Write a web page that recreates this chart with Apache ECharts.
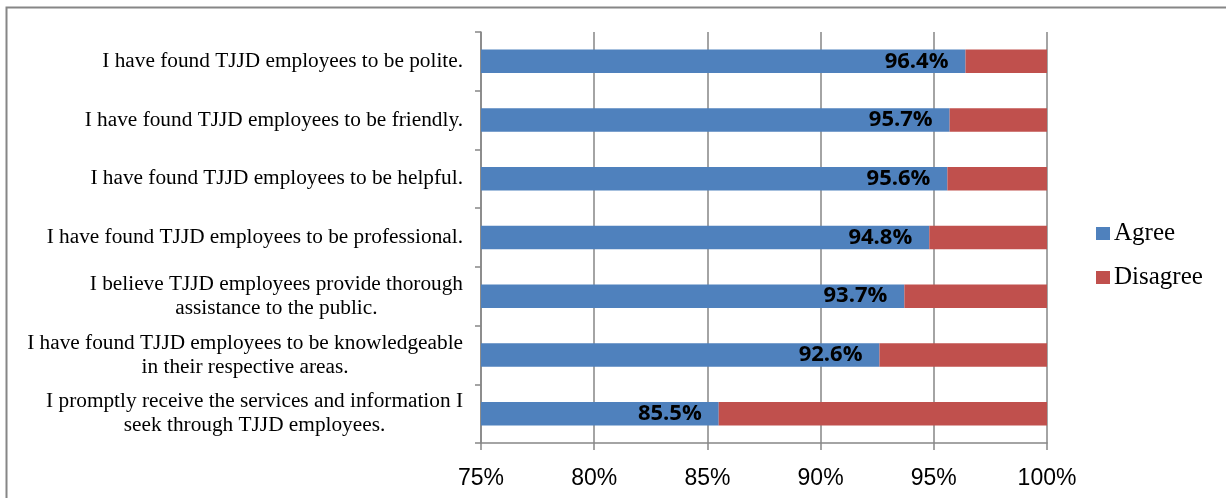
<!DOCTYPE html>
<html>
<head>
<meta charset="utf-8">
<script src="https://cdn.jsdelivr.net/npm/echarts@6/dist/echarts.min.js"></script>
<style>
html,body{margin:0;padding:0;background:#fff;}
#chart{width:1226px;height:498px;}
</style>
</head>
<body>
<div id="chart"></div>
<script>
var categories = [
  "I have found TJJD employees to be polite.",
  "I have found TJJD employees to be friendly.",
  "I have found TJJD employees to be helpful.",
  "I have found TJJD employees to be professional.",
  "I believe TJJD employees provide thorough\nassistance to the public.",
  "I have found TJJD employees to be knowledgeable\nin their respective areas.",
  "I promptly receive the services and information I\nseek through TJJD employees."
];
var agreeValues = [96.4, 95.7, 95.6, 94.8, 93.7, 92.6, 85.5];
var disagreeValues = [3.6, 4.3, 4.4, 5.2, 6.3, 7.4, 14.5];
var seriesNames = ["Agree", "Disagree"];

var chart = echarts.init(document.getElementById('chart'), null, {renderer: 'canvas'});
var gray = '#868686';
chart.setOption({
  animation: false,
  backgroundColor: '#fff',
  graphic: [{
    type: 'rect',
    shape: {x: 6.5, y: 7.5, width: 1240, height: 520},
    style: {fill: 'none', stroke: gray, lineWidth: 2},
    silent: true
  }],
  legend: {
    orient: 'vertical',
    left: 1091,
    top: 216,
    itemWidth: 14,
    itemHeight: 13,
    itemGap: 19,
    icon: 'rect',
    textStyle: {fontFamily: 'Liberation Serif', fontSize: 25, color: '#000', padding: [0, 0, 0, -1]},
    data: seriesNames
  },
  grid: {left: 481, right: 179, top: 32, bottom: 55, containLabel: false},
  xAxis: {
    type: 'value',
    min: 75, max: 100, interval: 5,
    axisLine: {show: true, lineStyle: {color: gray, width: 1.5}},
    axisTick: {show: true, length: 7, lineStyle: {color: gray, width: 1.5}},
    splitLine: {show: true, lineStyle: {color: gray, width: 1.5}},
    axisLabel: {
      formatter: '{value}%',
      fontFamily: 'Liberation Sans', fontSize: 23, color: '#000', margin: 24
    }
  },
  yAxis: {
    type: 'category',
    inverse: true,
    data: categories,
    axisLine: {show: true, lineStyle: {color: gray, width: 1.5}},
    axisTick: {show: true, length: 6, lineStyle: {color: gray, width: 1.5}},
    axisLabel: {
      margin: 18,
      formatter: function (v) {
        return v.split('\n').map(function (s) { return '{c|' + s + '}'; }).join('\n');
      },
      rich: {
        c: {align: 'center', fontFamily: 'Liberation Serif', fontSize: 21.3, color: '#000', lineHeight: 24}
      }
    }
  },
  series: [
    {
      name: seriesNames[0], type: 'bar', stack: 'total', data: agreeValues,
      barWidth: '40%',
      itemStyle: {color: '#4F81BD'},
      label: {
        show: true, position: 'insideRight', distance: 17,
        formatter: function (p) { return p.value.toFixed(1) + '%'; },
        fontFamily: 'Open Sans', fontWeight: 'bold', fontSize: 22, color: '#000'
      }
    },
    {
      name: seriesNames[1], type: 'bar', stack: 'total', data: disagreeValues,
      barWidth: '40%',
      itemStyle: {color: '#C0504D'}
    }
  ]
});
</script>
</body>
</html>
